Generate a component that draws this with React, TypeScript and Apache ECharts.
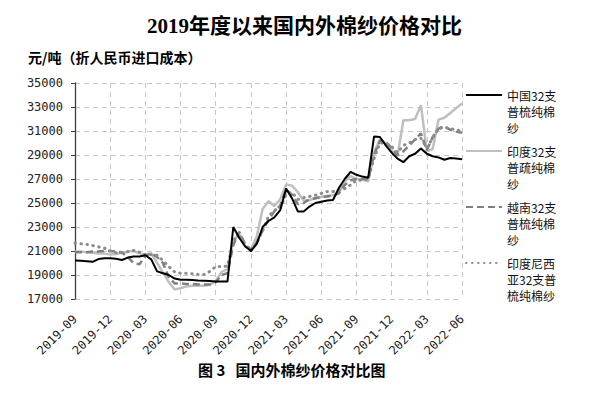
import React, { useEffect, useRef } from 'react';
import * as echarts from 'echarts';

const titleText = '2019年度以来国内外棉纱价格对比';
const unitText = '元/吨（折人民币进口成本）';
const captionText = '图 3   国内外棉纱价格对比图';

const xTickLabels = [
  '2019-09', '2019-12', '2020-03', '2020-06', '2020-09', '2020-12',
  '2021-03', '2021-06', '2021-09', '2021-12', '2022-03', '2022-06',
];

// half-monthly observation dates, 2019-09-01 .. 2022-06-01
const xCategories: string[] = [];
for (let k = 0; k <= 33; k++) {
  const total = 2019 * 12 + 8 + k;
  const yy = Math.floor(total / 12);
  const mm = String((total % 12) + 1).padStart(2, '0');
  xCategories.push(`${yy}-${mm}-01`);
  if (k < 33) xCategories.push(`${yy}-${mm}-16`);
}

const seriesNames = [
  '中国32支普梳纯棉纱',
  '印度32支普疏纯棉纱',
  '越南32支普梳纯棉纱',
  '印度尼西亚32支普梳纯棉纱',
];
const legendLabels = [
  ['中国32支', '普梳纯棉', '纱'],
  ['印度32支', '普疏纯棉', '纱'],
  ['越南32支', '普梳纯棉', '纱'],
  ['印度尼西', '亚32支普', '梳纯棉纱'],
];

const china = [
  20200, 20180, 20150, 20100, 20330, 20400, 20400, 20350, 20250, 20450, 20550, 20550, 20650, 20300,
  19300, 19150, 19000, 18700, 18600, 18600, 18580, 18550, 18530, 18500, 18450, 18450, 18450,
  23000, 22100, 21400, 21000,
  21600, 23000, 23500, 23800, 24400, 26200, 25400, 24300, 24300, 24700, 25000, 25100, 25200, 25250,
  26250, 27000, 27600, 27350, 27200, 27100,
  30550, 30500, 29800, 29200, 28700, 28400, 28900, 29100, 29550, 29100, 28900, 28800, 28600, 28750,
  28700, 28650,
];

const india = [
  20950, 20950, 20900, 20850, 20800, 20800, 20700, 20750, 20850, 20950, 21000, 20800, 20700, 20800,
  20000, 19200, 18400, 17800, 17900, 18050, 18100, 18100, 18100, 18200, 18500, 19250, 19500,
  21900, 22400, 21400, 21100,
  22200, 24500, 25150, 24750, 25300, 26550, 26450, 25900, 25200, 25250, 25400, 25500, 25600, 25650,
  25800, 26800, 27250, 27000, 26950, 26800,
  29200, 30300, 30000, 29400, 28900, 31900, 31900, 32000, 33150, 29300, 29500, 31950, 32100, 32500,
  32900, 33300,
];

const vietnam = [
  20900, 20900, 20900, 20950, 20950, 21000, 21000, 20950, 20900, 20500, 20000, 19900, 20600, 20800,
  20500, 20000, 18800, 18300, 18300, 18250, 18250, 18200, 18200, 18200, 18400, 19000, 19150,
  21500, 22600, 21600, 21100,
  21700, 22700, 23600, 24300, 24800, 26100, 25700, 24900, 25000, 25300, 25400, 25500, 25550, 25600,
  25800, 26500, 26900, 27000, 27000, 27000,
  29000, 30200, 30100, 29600, 29000, 29300, 29800, 30300, 30800, 29400, 30500, 31200, 31400, 31100,
  30950, 30850,
];

const indonesia = [
  21650, 21600, 21550, 21450, 21350, 21250, 21000, 20850, 20850, 20950, 21050, 20900, 20700, 20700,
  20650, 20200, 19700, 19250, 19150, 19150, 19100, 19050, 19050, 19300, 19700, 19700, 19750,
  21800, 22500, 21500, 21000,
  21700, 22700, 23900, 24400, 24550, 25700, 25900, 25300, 25450, 25550, 25650, 25800, 25950, 25950,
  26100, 26200, 26500, 26900, 26900, 27000,
  28700, 30000, 30000, 29700, 29200, 29800, 30000, 30300, 30400, 29600, 30400, 31200, 31300, 31200,
  31100, 31000,
];

const yMin = 17000;
const yMax = 35000;
const yStep = 2000;

const cjk = "'Noto Sans CJK SC', sans-serif";
const mono = "'DejaVu Sans Mono', monospace";
const gridLine = { color: '#c6c6c6', type: [5, 4] as number[], width: 1 };

export default function App() {
  const ref = useRef<HTMLDivElement>(null);
  useEffect(() => {
    if (!ref.current) return;
    const chart = echarts.init(ref.current, undefined, { renderer: 'svg' });
    const option: any = {
      animation: false,
      backgroundColor: '#ffffff',
      title: [
        {
          text: titleText, left: 147, top: 15, padding: 0,
          textStyle: { fontFamily: "'Liberation Serif', 'Noto Sans CJK SC', serif", fontSize: 21, fontWeight: 'bold', color: '#000' },
        },
        {
          text: unitText, left: 28, top: 50, padding: 0,
          textStyle: { fontFamily: cjk, fontSize: 14, fontWeight: 'bold', color: '#000' },
        },
        {
          text: captionText, left: 198, top: 362, padding: 0,
          textStyle: { fontFamily: cjk, fontSize: 15, fontWeight: 'bold', color: '#000' },
        },
      ],
      grid: { left: 75, right: 152, top: 83, bottom: 95, containLabel: false },
      legend: {
        orient: 'vertical', left: 465, top: 55, padding: 0,
        itemWidth: 36, itemHeight: 14, itemGap: -24,
        data: seriesNames,
        itemStyle: { opacity: 0, borderWidth: 0 },
        formatter: (name: string) => ['', '', ...legendLabels[seriesNames.indexOf(name)]].join('\n'),
        textStyle: { fontFamily: cjk, fontSize: 12, lineHeight: 16, color: '#111' },
      },
      xAxis: {
        type: 'category', data: xCategories, boundaryGap: false,
        axisLine: { show: false }, axisTick: { show: false },
        axisLabel: {
          interval: 5, rotate: 45, margin: 18, fontFamily: mono, fontSize: 12, color: '#222',
          formatter: (_v: string, i: number) => xTickLabels[Math.round(i / 6)],
        },
        splitLine: { show: true, interval: 5, lineStyle: gridLine },
      },
      yAxis: {
        type: 'value', min: yMin, max: yMax, interval: yStep,
        axisLine: { show: true, lineStyle: { color: '#404040', width: 1.3 } },
        axisTick: { show: true, length: 4, lineStyle: { color: '#404040' } },
        axisLabel: { fontFamily: mono, fontSize: 12, color: '#222', margin: 12, formatter: (v: number) => String(v) },
        splitLine: { show: true, lineStyle: gridLine },
      },
      series: [
        {
          name: seriesNames[0], type: 'line', data: china, symbol: 'none', z: 6,
          lineStyle: { color: '#000000', width: 2 }, itemStyle: { color: '#000000' },
        },
        {
          name: seriesNames[1], type: 'line', data: india, symbol: 'none', z: 3,
          lineStyle: { color: '#bfbfbf', width: 2.5 }, itemStyle: { color: '#bfbfbf' },
        },
        {
          name: seriesNames[2], type: 'line', data: vietnam, symbol: 'none', z: 4,
          lineStyle: { color: '#7f7f7f', width: 2.5, type: [7, 4] }, itemStyle: { color: '#7f7f7f' },
        },
        {
          name: seriesNames[3], type: 'line', data: indonesia, symbol: 'none', z: 5,
          lineStyle: { color: '#8c8c8c', width: 3, type: [0.5, 5.5], cap: 'round' }, itemStyle: { color: '#8c8c8c' },
        },
      ],
    };
    chart.setOption(option);
    return () => chart.dispose();
  }, []);
  return (
    <div
      ref={ref}
      style={{ position: 'fixed', left: 0, top: 0, width: 614, height: 394, background: '#fff' }}
    />
  );
}
